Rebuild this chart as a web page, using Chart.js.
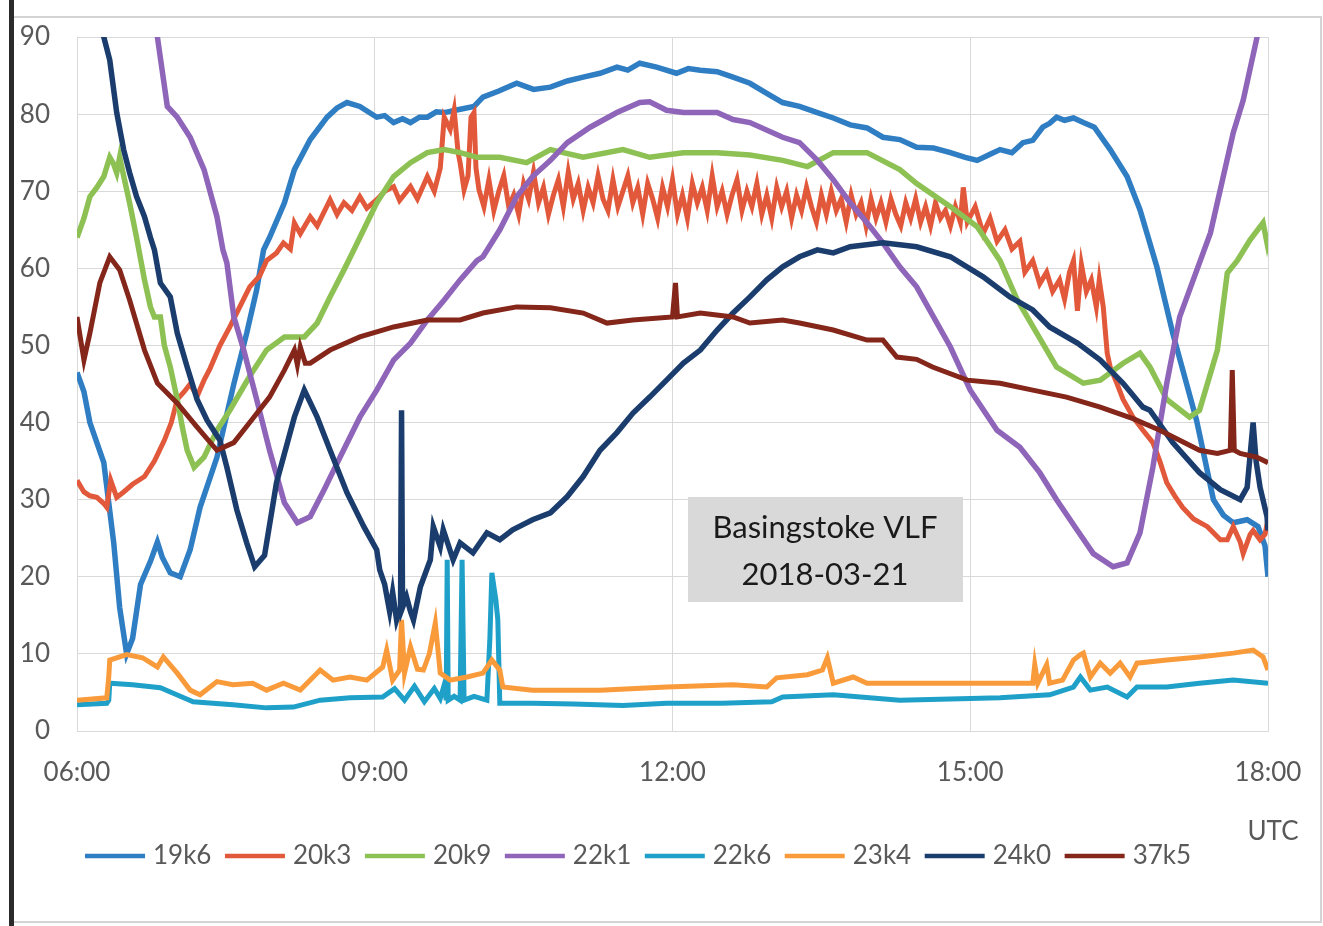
<!DOCTYPE html>
<html>
<head>
<meta charset="utf-8">
<script src="https://cdn.jsdelivr.net/npm/chart.js@4/dist/chart.umd.min.js"></script>
<style>
  html, body { margin: 0; padding: 0; background: #fff; }
  #wrap { width: 1323px; height: 926px; position: relative; }
</style>
</head>
<body>
<div id="wrap"><canvas id="myChart" width="1323" height="926"></canvas></div>
<script>
// station labels
let stations = ['19k6', '20k3', '20k9', '22k1', '22k6', '23k4', '24k0', '37k5'];
let tickLabels = ['06:00', '09:00', '12:00', '15:00', '18:00'];
let titleLines = ['Basingstoke VLF', '2018-03-21'];

// times in hours (UTC), values in signal units
let t19k6 = [6.00, 6.07, 6.13, 6.27, 6.37, 6.43, 6.50, 6.56, 6.64, 6.74, 6.81, 6.86, 6.94, 7.04, 7.14, 7.24, 7.41, 7.58, 7.71, 7.81, 7.88, 7.94, 8.09, 8.19, 8.35, 8.52, 8.62, 8.72, 8.85, 9.02, 9.10, 9.19, 9.28, 9.36, 9.45, 9.53, 9.62, 9.70, 9.85, 10.00, 10.09, 10.25, 10.43, 10.60, 10.77, 10.94, 11.10, 11.27, 11.44, 11.55, 11.67, 11.84, 12.04, 12.16, 12.28, 12.45, 12.61, 12.78, 12.95, 13.11, 13.28, 13.46, 13.62, 13.79, 13.96, 14.12, 14.29, 14.46, 14.63, 14.80, 14.95, 15.07, 15.20, 15.30, 15.42, 15.53, 15.63, 15.73, 15.80, 15.87, 15.95, 16.04, 16.14, 16.25, 16.41, 16.58, 16.71, 16.88, 17.04, 17.28, 17.45, 17.55, 17.65, 17.79, 17.90, 17.97, 18.00];
let v19k6 = [46.5, 44, 40, 34.8, 24.4, 16, 10, 12, 19, 22, 24.5, 22.5, 20.5, 20, 23.5, 29, 35.5, 45, 51.6, 57.2, 62.4, 64, 68.5, 72.8, 76.7, 79.6, 80.8, 81.5, 81, 79.6, 79.8, 78.9, 79.4, 78.9, 79.6, 79.6, 80.3, 80.2, 80.6, 81, 82.2, 83, 84, 83.2, 83.5, 84.3, 84.8, 85.3, 86.1, 85.7, 86.6, 86.1, 85.3, 85.9, 85.7, 85.5, 84.8, 84, 82.7, 81.5, 81, 80.2, 79.5, 78.6, 78.2, 77, 76.7, 75.7, 75.6, 75, 74.4, 74, 74.8, 75.4, 75, 76.3, 76.6, 78.3, 78.8, 79.6, 79.2, 79.5, 78.9, 78.3, 75.4, 71.9, 67.6, 60.2, 51.6, 40.3, 30, 28, 27, 27.4, 26.5, 24, 20];

let t20k3 = [6.00, 6.07, 6.13, 6.20, 6.27, 6.30, 6.34, 6.40, 6.47, 6.56, 6.68, 6.78, 6.88, 6.95, 7.01, 7.08, 7.14, 7.21, 7.28, 7.34, 7.44, 7.54, 7.64, 7.74, 7.84, 7.91, 8.01, 8.08, 8.15, 8.19, 8.25, 8.35, 8.42, 8.55, 8.62, 8.69, 8.77, 8.85, 8.92, 9.02, 9.10, 9.19, 9.25, 9.36, 9.43, 9.53, 9.60, 9.66, 9.70, 9.76, 9.80, 9.84, 9.86, 9.90, 9.94, 9.97, 10.00, 10.02, 10.05,
  10.10, 10.15, 10.20, 10.25, 10.30, 10.35, 10.40, 10.45, 10.50, 10.55, 10.60, 10.65, 10.70, 10.75, 10.80, 10.85, 10.90, 10.95,
  11.00, 11.05, 11.10, 11.15, 11.20, 11.25, 11.30, 11.35, 11.40, 11.45, 11.50, 11.55, 11.60, 11.65, 11.70, 11.75, 11.80, 11.85, 11.90, 11.95,
  12.00, 12.05, 12.10, 12.15, 12.20, 12.25, 12.30, 12.35, 12.40, 12.45, 12.50, 12.55, 12.60, 12.65, 12.70, 12.75, 12.80, 12.85, 12.90, 12.95,
  13.00, 13.05, 13.10, 13.15, 13.20, 13.25, 13.30, 13.35, 13.40, 13.45, 13.50, 13.55, 13.60, 13.65, 13.70, 13.75, 13.80, 13.85, 13.90, 13.95,
  14.00, 14.05, 14.10, 14.15, 14.20, 14.25, 14.30, 14.35, 14.40, 14.45, 14.50, 14.55, 14.60, 14.65, 14.70, 14.75, 14.80, 14.85, 14.90,
  14.93, 14.97, 15.05, 15.13, 15.20, 15.27, 15.35, 15.42, 15.50, 15.55, 15.63, 15.70, 15.77, 15.83, 15.90, 15.95, 16.00, 16.04, 16.08, 16.12, 16.17, 16.22, 16.27, 16.30, 16.34, 16.38, 16.41, 16.48, 16.54, 16.64, 16.74, 16.84, 16.91, 16.98, 17.06, 17.14, 17.25, 17.39, 17.52, 17.59, 17.65, 17.72, 17.75, 17.82, 17.85, 17.92, 17.97, 18.00];
let v20k3 = [32.5, 31, 30.5, 30.3, 29.5, 29, 32.5, 30.3, 31, 32, 33, 35, 37.7, 40, 43, 44, 45, 43.4, 45.5, 47, 50, 52.4, 55, 57.6, 59, 61, 62, 63.3, 62.5, 65.9, 64.5, 66.7, 65.5, 68.9, 67, 68.5, 67.5, 69.3, 67.8, 68.9, 70, 70.6, 68.8, 70.6, 69, 71.9, 70, 73, 79.6, 78, 80.5, 75, 73.7, 70.2, 72, 79.6, 80.2, 73, 70.2,
  68, 71.5, 67.5, 70, 72, 68, 69.5, 67, 71, 69, 72.5, 68.5, 70.5, 67, 69.5, 71.5, 68, 72.5,
  69, 71, 67.5, 70.5, 68.5, 72, 69, 67.5, 71.5, 68, 70, 72, 68.5, 70.5, 67, 71, 69, 66.5, 70.5, 68,
  71.5, 67, 69.5, 66.5, 71, 68.5, 70.5, 67.5, 72, 68, 70, 67, 69.5, 71.5, 67.5, 70, 68, 71, 67, 69.5,
  66.5, 70.5, 68, 70, 66.5, 69.5, 67.5, 70.5, 68, 66, 69.5, 67, 70, 67.5, 69, 66, 69.5, 67, 68.5, 65.5,
  69, 66.5, 68.5, 66, 69, 67, 65.5, 68.5, 66.5, 69, 66, 68, 65.5, 68.5, 66.5, 67.5, 65.5, 68, 66,
  70.5, 66, 68, 64.5, 66.5, 63.5, 65, 62.5, 63.5, 59.5, 61, 58, 59.5, 57, 58.5, 56, 59.5, 61, 54.5, 60.5, 57, 58.5, 55, 58.5, 55, 49, 47.2, 45, 43, 40.7, 39, 37.4, 35, 32.2, 30.5, 29, 27.5, 26.5, 24.8, 24.8, 26.5, 24.5, 23, 25.5, 26, 24.8, 25.5, 27.4];

let t20k9 = [6.00, 6.07, 6.13, 6.20, 6.27, 6.33, 6.37, 6.40, 6.43, 6.47, 6.53, 6.60, 6.68, 6.74, 6.78, 6.84, 6.88, 6.94, 7.01, 7.06, 7.11, 7.18, 7.28, 7.41, 7.54, 7.74, 7.91, 8.09, 8.29, 8.42, 8.55, 8.69, 8.79, 8.85, 9.02, 9.19, 9.36, 9.53, 9.70, 9.86, 10.03, 10.26, 10.53, 10.77, 11.10, 11.50, 11.77, 12.11, 12.45, 12.78, 13.11, 13.36, 13.62, 13.96, 14.29, 14.46, 14.80, 15.07, 15.30, 15.47, 15.67, 15.87, 16.14, 16.31, 16.54, 16.71, 16.81, 16.98, 17.21, 17.31, 17.49, 17.59, 17.69, 17.82, 17.95, 17.99, 18.00];
let v20k9 = [64, 66.5, 69.3, 70.5, 71.9, 74.4, 73.5, 72.4, 74.4, 72, 68.5, 64, 58.5, 55, 53.7, 53.7, 50, 47.2, 43, 39.5, 36.4, 34.2, 35.5, 39, 41.6, 46, 49.4, 51.1, 51.1, 52.9, 56.3, 59.8, 62.4, 64, 68.5, 71.9, 73.7, 75, 75.4, 75, 74.4, 74.4, 73.7, 75.4, 74.4, 75.4, 74.4, 75, 75, 74.7, 74, 73.2, 75, 75, 72.8, 71, 68, 65.4, 61, 56, 51.6, 47.2, 45.1, 45.5, 47.7, 49, 47.2, 43, 40.7, 41.6, 49.4, 59.4, 61, 63.7, 65.9, 63.3, 64];

let t22k1 = [6.75, 6.81, 6.91, 7.01, 7.14, 7.28, 7.41, 7.47, 7.51, 7.58, 7.68, 7.81, 7.94, 8.09, 8.22, 8.35, 8.49, 8.65, 8.85, 9.02, 9.19, 9.36, 9.53, 9.70, 9.86, 10.03, 10.09, 10.26, 10.43, 10.59, 10.77, 10.94, 11.17, 11.44, 11.67, 11.77, 11.94, 12.11, 12.45, 12.61, 12.78, 13.11, 13.28, 13.46, 13.62, 13.79, 13.96, 14.12, 14.29, 14.46, 14.80, 15.00, 15.27, 15.50, 15.70, 15.87, 16.08, 16.24, 16.44, 16.58, 16.71, 16.84, 16.98, 17.11, 17.42, 17.65, 17.75, 17.89, 18.00];
let v22k1 = [96, 90, 81, 79.6, 77, 72.8, 66.7, 62.4, 60.7, 53.7, 49.4, 43, 36.4, 29.6, 27, 27.8, 31.3, 35.5, 40.7, 44.2, 48.1, 50.3, 53.3, 55.9, 58.5, 61, 61.5, 65, 69.3, 71.9, 74, 76.3, 78.3, 80.2, 81.5, 81.6, 80.5, 80.2, 80.2, 79.3, 78.9, 77, 76.3, 74, 71.5, 68.5, 65.9, 63.3, 60.2, 57.6, 49.8, 44.2, 39, 36.8, 33.5, 30, 26, 23, 21.3, 21.8, 25.7, 34.2, 45.1, 53.7, 64.6, 77.6, 81.8, 90, 97];

let t22k6 = [6.00, 6.30, 6.32, 6.33, 6.56, 6.84, 6.97, 7.17, 7.57, 7.91, 8.18, 8.45, 8.75, 9.08, 9.20, 9.30, 9.40, 9.50, 9.60, 9.66, 9.70, 9.72, 9.73, 9.74, 9.80, 9.86, 9.88, 9.90, 10.00, 10.13, 10.16, 10.18, 10.22, 10.24, 10.26, 10.59, 11.00, 11.50, 11.94, 12.50, 13.00, 13.11, 13.62, 14.29, 15.00, 15.30, 15.80, 16.04, 16.11, 16.21, 16.38, 16.58, 16.68, 16.98, 17.31, 17.65, 18.00];
let v22k6 = [3.4, 3.6, 4, 6.2, 6, 5.6, 4.9, 3.8, 3.4, 3, 3.1, 4, 4.3, 4.4, 5.5, 4, 5.8, 3.8, 5.5, 4.2, 6, 4, 22.2, 4, 4.5, 4, 22.2, 4, 4.5, 4, 12, 20.5, 17, 14.4, 3.6, 3.6, 3.5, 3.3, 3.6, 3.6, 3.8, 4.4, 4.7, 4, 4.2, 4.3, 4.7, 5.7, 7, 5.3, 5.7, 4.4, 5.7, 5.7, 6.2, 6.6, 6.2];

let t23k4 = [6.00, 6.30, 6.32, 6.33, 6.50, 6.66, 6.81, 6.87, 7.01, 7.14, 7.24, 7.41, 7.57, 7.77, 7.91, 8.08, 8.25, 8.45, 8.58, 8.75, 8.92, 9.08, 9.12, 9.18, 9.25, 9.27, 9.30, 9.36, 9.43, 9.49, 9.55, 9.61, 9.66, 9.76, 9.93, 10.09, 10.18, 10.26, 10.29, 10.59, 11.27, 11.94, 12.61, 12.95, 13.05, 13.36, 13.51, 13.56, 13.62, 13.82, 13.96, 14.29, 14.97, 15.30, 15.63, 15.65, 15.68, 15.77, 15.80, 15.93, 16.04, 16.11, 16.14, 16.21, 16.31, 16.41, 16.51, 16.61, 16.68, 16.98, 17.31, 17.65, 17.85, 17.95, 18.00];
let v23k4 = [4, 4.3, 7, 9.2, 9.9, 9.5, 8.3, 9.6, 7.5, 5.3, 4.7, 6.4, 6, 6.2, 5.3, 6.2, 5.3, 7.9, 6.6, 7, 6.6, 8.3, 10.5, 6.6, 7.9, 14.4, 7.5, 10.9, 8, 7.9, 10, 14, 7.5, 6.6, 7, 7.5, 9.2, 7.9, 5.7, 5.3, 5.3, 5.7, 6, 5.7, 6.9, 7.3, 7.9, 9.5, 6.2, 7, 6.2, 6.2, 6.2, 6.2, 6.2, 8.6, 6.2, 8.6, 6.2, 6.6, 9.2, 9.9, 10.1, 7, 8.8, 7.5, 8.8, 7, 8.8, 9.2, 9.6, 10.1, 10.5, 9.6, 7.9];

let t24k0 = [6.10, 6.27, 6.33, 6.40, 6.47, 6.53, 6.60, 6.68, 6.74, 6.78, 6.84, 6.94, 7.01, 7.11, 7.21, 7.31, 7.44, 7.51, 7.61, 7.71, 7.79, 7.89, 8.01, 8.19, 8.29, 8.42, 8.55, 8.72, 8.89, 9.02, 9.05, 9.10, 9.15, 9.18, 9.22, 9.26, 9.27, 9.28, 9.32, 9.36, 9.39, 9.46, 9.56, 9.59, 9.66, 9.69, 9.79, 9.86, 9.99, 10.13, 10.26, 10.39, 10.59, 10.77, 10.94, 11.10, 11.27, 11.44, 11.60, 11.77, 11.94, 12.11, 12.28, 12.45, 12.61, 12.78, 12.95, 13.11, 13.28, 13.46, 13.62, 13.79, 14.12, 14.46, 14.80, 15.13, 15.40, 15.63, 15.80, 16.08, 16.31, 16.54, 16.74, 16.81, 17.04, 17.31, 17.52, 17.72, 17.79, 17.85, 17.88, 17.92, 17.99, 18.00];
let v24k0 = [95, 90, 87, 80.2, 75.4, 72.4, 69.3, 66.7, 64, 62.4, 58.1, 56.3, 51.6, 47.2, 43, 40.3, 37.7, 34.2, 28.7, 24.4, 21.3, 22.8, 32.2, 40.7, 44.2, 40.7, 36.4, 30.9, 26.5, 23.5, 20.9, 19, 15.5, 18, 14.4, 16, 41.6, 16, 17.4, 15.5, 14.4, 18.7, 22.2, 26.5, 23.9, 26.1, 22.2, 24.4, 23.1, 25.7, 24.8, 26.1, 27.4, 28.3, 30.4, 33, 36.4, 38.7, 41.2, 43.3, 45.5, 47.7, 49.4, 52, 54.2, 56.3, 58.5, 60.2, 61.5, 62.4, 62, 62.8, 63.3, 62.8, 61.5, 58.9, 56.3, 54.6, 52.4, 50.3, 48.1, 45.1, 42, 41.6, 37.4, 33.5, 31.3, 30, 31.6, 40, 35, 31.6, 27.8, 26];

let t37k5 = [6.00, 6.07, 6.13, 6.23, 6.33, 6.43, 6.53, 6.68, 6.81, 7.01, 7.21, 7.41, 7.58, 7.74, 7.94, 8.09, 8.19, 8.22, 8.25, 8.30, 8.35, 8.55, 8.85, 9.19, 9.53, 9.86, 10.09, 10.43, 10.77, 11.10, 11.34, 11.60, 12.00, 12.03, 12.05, 12.28, 12.61, 12.78, 13.11, 13.28, 13.62, 13.96, 14.12, 14.26, 14.46, 14.62, 14.97, 15.30, 15.63, 15.97, 16.31, 16.64, 16.91, 17.11, 17.31, 17.49, 17.62, 17.64, 17.66, 17.72, 17.89, 18.00];
let v37k5 = [53.7, 48.1, 51.6, 58.1, 61.5, 59.8, 55.9, 49.4, 45.1, 42.5, 39.4, 36.4, 37.4, 40, 43.3, 46.8, 49.4, 47.5, 49.8, 47.7, 47.7, 49.4, 51.1, 52.4, 53.3, 53.3, 54.2, 55, 54.9, 54.2, 52.9, 53.3, 53.7, 58.1, 53.7, 54.2, 53.7, 52.9, 53.3, 52.9, 52, 50.7, 50.7, 48.5, 48.2, 47.2, 45.5, 45.1, 44.2, 43.3, 42, 40.5, 39, 37.7, 36.4, 36, 36.4, 46.8, 36.4, 36, 35.5, 34.8];

let colors = ['#2f7dc2', '#e2583a', '#8dc153', '#8f65b9', '#1fa0c8', '#f99b3b', '#1b3d6e', '#84261a'];
let widths = [5.5, 5, 5.5, 5.5, 5, 5, 5.5, 5];

let times = [t19k6, t20k3, t20k9, t22k1, t22k6, t23k4, t24k0, t37k5];
let values = [v19k6, v20k3, v20k9, v22k1, v22k6, v23k4, v24k0, v37k5];

let toPoints = (ts, vs) => ts.map((t, i) => ({ x: t, y: vs[i] }));

let myData = {
    datasets: stations.map((name, i) => ({
        label: name,
        data: toPoints(times[i], values[i]),
        borderColor: colors[i],
        backgroundColor: colors[i],
        borderWidth: widths[i],
        pointRadius: 0,
        pointHoverRadius: 0,
        tension: 0,
        clip: 0,
        order: stations.length - i,
    }))
};

const FONT = 'Lato, "Open Sans", sans-serif';

// frame, legend, UTC label and the grey title box
let decorPlugin = {
    id: 'decor',
    beforeDraw(chart) {
        let c = chart.ctx;
        c.save();
        c.fillStyle = '#ffffff';
        c.fillRect(0, 0, chart.width, chart.height);
        c.strokeStyle = '#d4d4d4';
        c.lineWidth = 2;
        c.strokeRect(13, 17, 1308, 905);
        c.fillStyle = '#2b2b2b';
        c.fillRect(9, 0, 5, chart.height);
        c.restore();
    },
    afterDraw(chart) {
        let c = chart.ctx;
        c.save();
        // title box
        c.fillStyle = '#d9d9d9';
        c.fillRect(688, 497, 275, 105);
        c.fillStyle = '#1a1a1a';
        c.font = '31px ' + FONT;
        c.textAlign = 'center';
        c.textBaseline = 'middle';
        c.fillText(titleLines[0], 825, 528);
        c.fillText(titleLines[1], 825, 575);

        // UTC
        c.fillStyle = '#595959';
        c.font = '26px ' + FONT;
        c.fillText('UTC', 1273, 832);

        // legend
        c.textAlign = 'left';
        let x = 85;
        let y = 856;
        stations.forEach((name, i) => {
            c.strokeStyle = colors[i];
            c.lineWidth = 4.5;
            c.beginPath();
            c.moveTo(x, y);
            c.lineTo(x + 60, y);
            c.stroke();
            x += 68;
            c.fillStyle = '#595959';
            c.fillText(name, x, y);
            x += c.measureText(name).width + 13.5;
        });
        c.restore();
    }
};

let myOption = {
    responsive: false,
    animation: false,
    layout: {
        autoPadding: false,
        padding: { top: 37, right: 55, left: 0, bottom: 0 }
    },
    plugins: {
        legend: { display: false },
        tooltip: { enabled: false },
    },
    scales: {
        x: {
            type: 'linear',
            min: 6,
            max: 18,
            afterFit: (s) => { s.height = 195; },
            grid: { color: '#d9d9d9', lineWidth: 1, drawTicks: true, tickLength: 26, tickColor: 'rgba(0,0,0,0)' },
            border: { color: '#d9d9d9' },
            ticks: {
                stepSize: 3,
                padding: 0,
                color: '#595959',
                font: { family: FONT, size: 26 },
                callback: (value) => tickLabels[Math.round((value - 6) / 3)],
            },
        },
        y: {
            min: 0,
            max: 90,
            afterFit: (s) => { s.width = 77; },
            grid: { color: '#d9d9d9', lineWidth: 1, drawTicks: true, tickLength: 27, tickColor: 'rgba(0,0,0,0)' },
            border: { color: '#d9d9d9' },
            ticks: {
                stepSize: 10,
                padding: 0,
                color: '#595959',
                font: { family: FONT, size: 26 },
            },
        },
    },
};

let ctx = document.getElementById('myChart').getContext('2d');
let myChart = new Chart(ctx, {
    type: 'line',
    data: myData,
    options: myOption,
    plugins: [decorPlugin]
});
</script>
</body>
</html>
